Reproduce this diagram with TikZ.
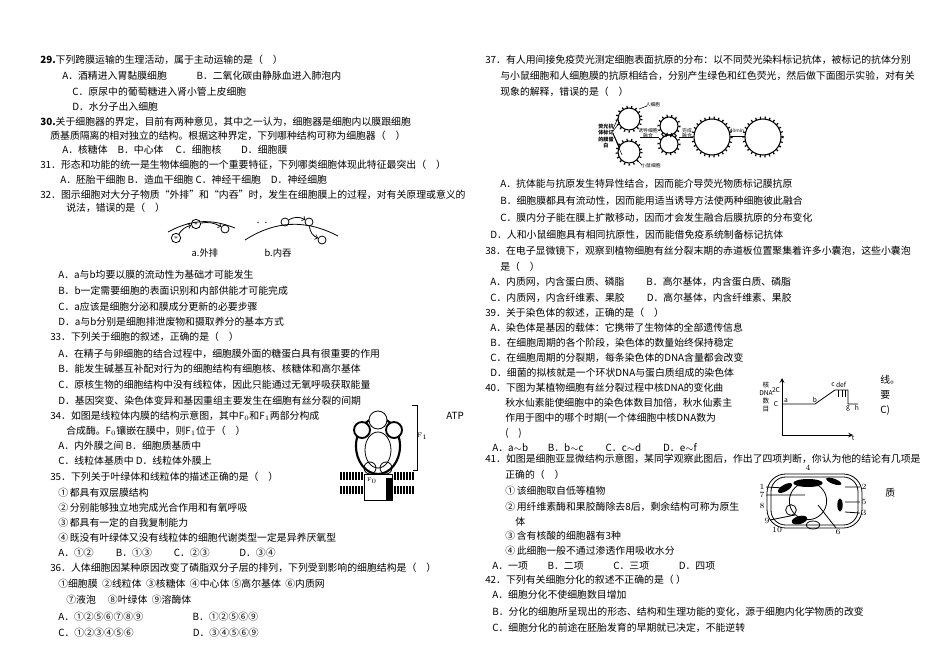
\documentclass[tikz,border=0pt]{standalone}
\usepackage{fontspec}
\newfontfamily\cjk{Noto Sans CJK SC}
\begin{document}
\begin{tikzpicture}[x=0.75pt,y=-0.75pt,
  txt/.style={anchor=west,inner sep=0pt,font=\cjk\fontsize{7.4}{8}\selectfont},
  sm/.style={inner sep=0pt,font=\cjk\fontsize{5}{6}\selectfont},
  tn/.style={inner sep=0pt,font=\cjk\fontsize{3.6}{4}\selectfont},
  ln/.style={line width=0.6pt}]
\useasboundingbox[fill=white] (0,0) rectangle (950,671);
\newcount\tc \tc=0
\def\T#1#2#3{\global\advance\tc by 1 \node[txt] (t\the\tc) at (#1,#2) {#3};}
% ---------- left column
\T{40}{60}{\textbf{29.}下列跨膜运输的生理活动，属于主动运输的是（\quad）}
\T{62}{76}{A．酒精进入胃黏膜细胞\qquad\quad B．二氧化碳由静脉血进入肺泡内}
\T{72}{92}{C．原尿中的葡萄糖进入肾小管上皮细胞}
\T{72}{107}{D．水分子出入细胞}
\T{40}{122}{\textbf{30.}关于细胞器的界定，目前有两种意见，其中之一认为，细胞器是细胞内以膜跟细胞}
\T{50}{136}{质基质隔离的相对独立的结构。根据这种界定，下列哪种结构可称为细胞器（\quad）}
\T{62}{150}{A．核糖体\quad B．中心体\quad\ C．细胞核\qquad D．细胞膜}
\T{40}{165}{31．形态和功能的统一是生物体细胞的一个重要特征，下列哪类细胞体现此特征最突出（\quad）}
\T{60}{180}{A．胚胎干细胞\ B．造血干细胞\ C．神经干细胞\quad D．神经细胞}
\T{40}{195}{32．图示细胞对大分子物质“外排”和“内吞”时，发生在细胞膜上的过程，对有关原理或意义的}
\T{66}{208}{说法，错误的是（\quad）}
% figure 32
\draw[ln] (168,232) to[bend left=25] (235,228);
\draw[ln] (245,240) to[bend left=30] (338,236);
\node[draw,circle,minimum size=7pt,inner sep=0pt,ln] (v1) at (176,238) {\tiny$\ast$};
\node[draw,circle,minimum size=7pt,inner sep=0pt,ln] (v2) at (196,224) {\tiny$\ast$};
\node[draw,circle,minimum size=6pt,inner sep=0pt,ln] (v3) at (225,229) {};
\node[draw,circle,minimum size=6pt,inner sep=0pt,ln] (v4) at (285,222) {};
\node[draw,circle,minimum size=6pt,inner sep=0pt,ln] (v5) at (309,222) {};
\node[draw,circle,minimum size=6pt,inner sep=0pt,ln] (v6) at (322,240) {};
\draw[->,ln] (v1) to[bend left=20] (v2);
\draw[->,ln] (v2) to[bend left=20] (v3);
\draw[->,ln] (v4) to[bend left=30] (v5);
\draw[->,ln] (v5) to[bend right=30] (v6);
\node[sm] (p1) at (262,224) {·\,·};
\node[txt,anchor=center,font=\cjk\fontsize{7}{8}\selectfont] (la) at (205,253) {a.外排};
\node[txt,anchor=center,font=\cjk\fontsize{7}{8}\selectfont] (lb) at (278,253) {b.内吞};
\T{58}{275}{A．a与b均要以膜的流动性为基础才可能发生}
\T{58}{291}{B．b一定需要细胞的表面识别和内部供能才可能完成}
\T{58}{307}{C．a应该是细胞分泌和膜成分更新的必要步骤}
\T{58}{322}{D．a与b分别是细胞排泄废物和摄取养分的基本方式}
\T{50}{337}{33．下列关于细胞的叙述，正确的是（\quad）}
\T{58}{354}{A．在精子与卵细胞的结合过程中，细胞膜外面的糖蛋白具有很重要的作用}
\T{58}{369}{B．能发生碱基互补配对行为的细胞结构有细胞核、核糖体和高尔基体}
\T{58}{385}{C．原核生物的细胞结构中没有线粒体，因此只能通过无氧呼吸获取能量}
\T{58}{401}{D．基因突变、染色体变异和基因重组主要发生在细胞有丝分裂的间期}
\T{50}{416}{34．如图是线粒体内膜的结构示意图，其中F$_0$和F$_1$两部分构成}
\T{446}{416}{ATP}
\T{66}{431}{合成酶。F$_0$镶嵌在膜中，则F$_1$位于（\quad）}
\T{58}{446}{A．内外膜之间\ B．细胞质基质中}
\T{58}{461}{C．线粒体基质中\ D．线粒体外膜上}
% figure 34
\draw[line width=1.6pt] (378,446) ellipse [x radius=22, y radius=28];
\draw[ln] (378,450) ellipse [x radius=13, y radius=18];
\draw[ln,fill=white] (378,420) circle [radius=9];
\draw[line width=1.4pt,fill=white] (362,430) circle [radius=8];
\draw[line width=1.4pt,fill=white] (394,430) circle [radius=8];
\draw[ln] (370,468) circle [radius=6] (386,468) circle [radius=6];
\draw[ln,fill=white] (364,474) rectangle (392,500);
\fill (386,478) rectangle (392,500);
\foreach \x in {341,344,...,362,395,398,...,413}
  {\draw[line width=0.9pt] (\x,472) -- (\x,480) (\x,486) -- (\x,494);}
\draw[ln] (412,405) -- (417,405) -- (417,470) -- (413,470);
\node[sm,font=\fontsize{5}{6}\selectfont] (f1) at (422,436) {F$_1$};
\node[sm,font=\fontsize{4}{5}\selectfont] (f0) at (372,481) {F$_0$};
\T{50}{477}{35．下列关于叶绿体和线粒体的描述正确的是（\quad）}
\T{58}{493}{①\,都具有双层膜结构}
\T{58}{508}{②\,分别能够独立地完成光合作用和有氧呼吸}
\T{58}{523}{③\,都具有一定的自我复制能力}
\T{58}{538}{④\,既没有叶绿体又没有线粒体的细胞代谢类型一定是异养厌氧型}
\T{58}{553}{A．①②\qquad\ B．①③\qquad\ C．②③\qquad\quad D．③④}
\T{50}{568}{36．人体细胞因某种原因改变了磷脂双分子层的排列，下列受到影响的细胞结构是（\quad）}
\T{58}{584}{①细胞膜\ \ ②线粒体\ \ ③核糖体\ \ ④中心体\ ⑤高尔基体\ \ ⑥内质网}
\T{66}{600}{⑦液泡\quad\ ⑧叶绿体\ \ ⑨溶酶体}
\T{58}{617}{A．①②⑤⑥⑦⑧⑨\qquad\qquad\quad B．①②⑤⑥⑨}
\T{58}{633}{C．①②③④⑤⑥\qquad\qquad\qquad D．③④⑤⑥⑨}
% ---------- right column
\T{485}{60}{37．有人用间接免疫荧光测定细胞表面抗原的分布：以不同荧光染料标记抗体，被标记的抗体分别}
\T{500}{76}{与小鼠细胞和人细胞膜的抗原相结合，分别产生绿色和红色荧光，然后做下面图示实验，对有关}
\T{500}{92}{现象的解释，错误的是（\quad）}
% figure 37
\tikzset{cell/.style={draw,line width=1.6pt,dash pattern=on 0.9pt off 2.6pt}}
\foreach \cx/\cy/\r in {629/119/11,629/152/11,669/126/9,669/144/9,712/137/18,763/137/18}
  {\draw[line width=0.8pt] (\cx,\cy) circle [radius=\r]; \draw[cell] (\cx,\cy) circle [radius=\r+1.5];}
\node[tn,align=center,font=\cjk\bfseries\fontsize{3.8}{4.6}\selectfont] (k1) at (606,136) {荧光抗\\体标记\\的膜蛋\\白};
\node[tn] (k2) at (653,105) {人细胞};
\node[tn] (k3) at (651,166) {小鼠细胞};
\node[tn,align=center] (k4) at (648,133) {诱导细胞\\融合};
\node[tn,align=center] (k5) at (687,133) {完成\\融合};
\node[tn] (k6) at (737,131) {40min};
\draw[line width=0.4pt] (613,131) -- (620,122) (613,133) -- (620,148) (613,134) -- (622,155) (613,129)--(618,118);
\draw[line width=0.4pt] (639,109) -- (647,106) (638,161) -- (642,165);
\draw[line width=0.5pt] (640,137)--(659,137) (679,137)--(693,137) (731,136)--(745,136);
\T{500}{184}{A．抗体能与抗原发生特异性结合，因而能介导荧光物质标记膜抗原}
\T{500}{201}{B．细胞膜都具有流动性，因而能用适当诱导方法使两种细胞彼此融合}
\T{500}{218}{C．膜内分子能在膜上扩散移动，因而才会发生融合后膜抗原的分布变化}
\T{490}{235}{D．人和小鼠细胞具有相同抗原性，因而能借免疫系统制备标记抗体}
\T{485}{251}{38．在电子显微镜下，观察到植物细胞有丝分裂末期的赤道板位置聚集着许多小囊泡，这些小囊泡}
\T{500}{267}{是（\quad）}
\T{490}{282}{A．内质网，内含蛋白质、磷脂\qquad\ B．高尔基体，内含蛋白质、磷脂}
\T{490}{298}{C．内质网，内含纤维素、果胶\qquad\ D．高尔基体，内含纤维素、果胶}
\T{485}{313}{39．关于染色体的叙述，正确的是（\quad）}
\T{490}{328}{A．染色体是基因的载体：它携带了生物体的全部遗传信息}
\T{490}{343}{B．在细胞周期的各个阶段，染色体的数量始终保持稳定}
\T{490}{358}{C．在细胞周期的分裂期，每条染色体的DNA含量都会改变}
\T{490}{373}{D．细菌的拟核就是一个环状DNA与蛋白质组成的染色体}
\T{485}{388}{40．下图为某植物细胞有丝分裂过程中核DNA的变化曲}
\T{880}{380}{线。}
\T{505}{403}{秋水仙素能使细胞中的染色体数目加倍，秋水仙素主}
\T{880}{395}{要}
\T{505}{418}{作用于图中的哪个时期(一个体细胞中核DNA数为}
\T{880}{410}{C)}
\T{505}{433}{(\quad )}
\T{492}{448}{A．a$\sim$b\qquad B．b$\sim$c\qquad\ C．c$\sim$d\qquad\ D．e$\sim$f}
% figure 40
\draw[ln,->,>=stealth] (782,435) -- (782,378);
\draw[ln,->,>=stealth] (782,435) -- (853,435);
\draw[ln] (782,404) -- (815,404) -- (835,390) -- (848,390) -- (848,404) -- (858,404);
\draw[ln] (838,390)--(838,397) (842,390)--(842,397) (845,390)--(845,397);
\node[sm,align=center] (yl) at (766,397) {核\\DNA\\数\\目};
\node[sm] (y2) at (776,390) {2C};
\node[sm] (y1) at (776,404) {C};
\foreach \x/\y/\l in {786/401/a,815/400/b,833/385/c,841/385/def,848/408/g,857/408/h,853/438/t}
  {\node[sm] at (\x,\y) {\l};}
\T{485}{459}{41．如图是细胞亚显微结构示意图，某同学观察此图后，作出了四项判断，你认为他的结论有几项是}
\T{505}{475}{正确的（\quad）}
\T{505}{491}{①\,该细胞取自低等植物}
\T{505}{507}{②\,用纤维素酶和果胶酶除去8后，剩余结构可称为原生}
\T{885}{493}{质}
\T{515}{522}{体}
\T{505}{536}{③\,含有核酸的细胞器有3种}
\T{505}{551}{④\,此细胞一般不通过渗透作用吸收水分}
\T{492}{566}{A．一项\qquad B．二项\qquad\quad C．三项\qquad\quad D．四项}
% figure 41
\draw[ln,rounded corners=14pt] (767,474) rectangle (862,528);
\draw[ln,rounded corners=11pt] (771,477) rectangle (858,525);
\draw[ln] (808,501) circle (14pt);
\fill (808,483) ellipse (11pt and 3pt);
\fill[rotate around={30:(785,488)}] (785,488) ellipse (6pt and 2.5pt);
\fill[rotate around={-20:(830,480)}] (834,480) ellipse (6pt and 2pt);
\draw[ln] (791,510) circle (4pt);
\fill[rotate around={15:(800,522)}] (800,520) ellipse (6pt and 3pt);
\draw[ln] (813,525) ellipse (5pt and 3pt);
\fill (840,505) ellipse (2pt and 5pt);
\foreach \x/\y/\l in {808/468/4,762/487/1,762/495/7,762/506/8,767/521/9,777/530/10,864/487/2,864/502/5,864/513/3,838/532/6}
  {\node[sm,font=\fontsize{6}{6}\selectfont] at (\x,\y) {\l};}
\draw[ln] (766,487)--(785,488) (766,495)--(805,495) (845,487)--(860,487) (845,502)--(860,502) (845,512)--(860,513) (770,520)--(795,515) (818,505)--(836,528);
\T{485}{580}{42．下列有关细胞分化的叙述不正确的是（\ ）}
\T{492}{595}{A．细胞分化不使细胞数目增加}
\T{492}{612}{B．分化的细胞所呈现出的形态、结构和生理功能的变化，源于细胞内化学物质的改变}
\T{492}{628}{C．细胞分化的前途在胚胎发育的早期就已决定，不能逆转}
\end{tikzpicture}
\end{document}
